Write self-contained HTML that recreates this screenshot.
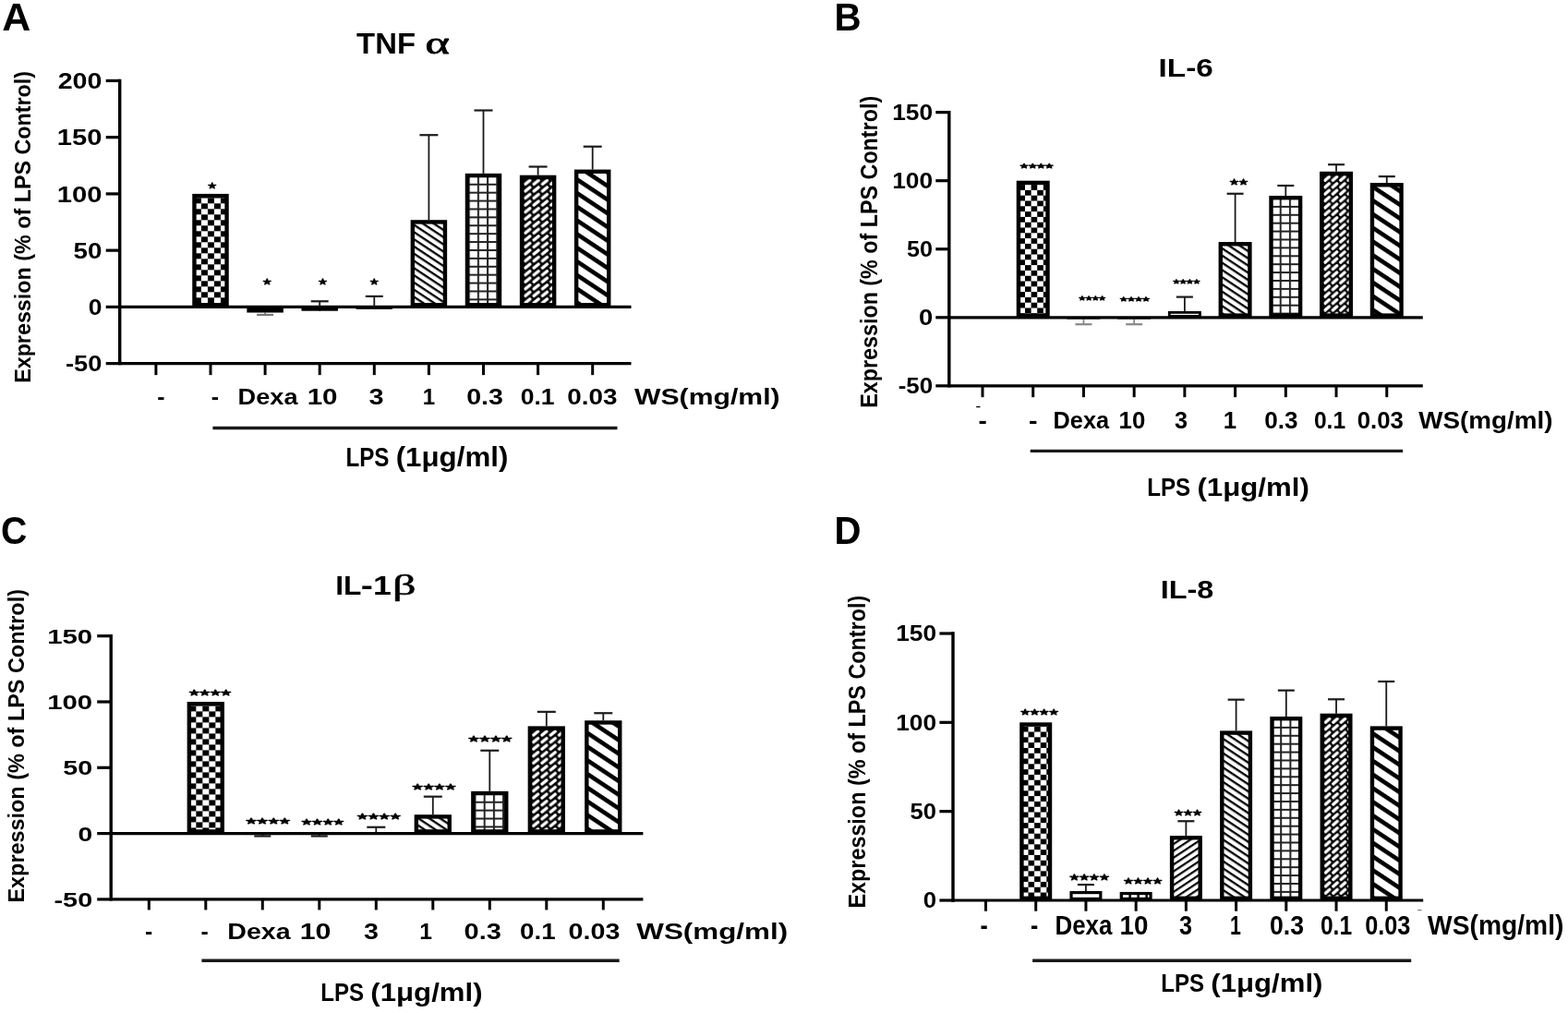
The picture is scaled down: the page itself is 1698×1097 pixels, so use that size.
<!DOCTYPE html>
<html><head><meta charset="utf-8"><title>Cytokine expression</title>
<style>html,body{margin:0;padding:0;background:#fff;width:1698px;height:1097px;overflow:hidden}svg{display:block}</style>
</head><body>
<svg width="1698" height="1097" viewBox="0 0 1698 1097"><defs><pattern id="chk_A_1" patternUnits="userSpaceOnUse" x="210.95" y="214.32" width="14.0" height="12.0"><rect width="14.0" height="12.0" fill="#fff"/><rect width="7.0" height="6.0" fill="#000"/><rect x="7.0" y="6.0" width="7.0" height="6.0" fill="#000"/></pattern><pattern id="bs_A_5" patternUnits="userSpaceOnUse" x="0.00" y="0.00" width="40" height="6.504" patternTransform="rotate(33.5)"><rect width="40" height="6.504" fill="#fff"/><rect y="0" width="40" height="2.300" fill="#000"/></pattern><pattern id="grid_A_6" patternUnits="userSpaceOnUse" x="516.90" y="198.77" width="10.2" height="8.9"><rect width="10.2" height="8.9" fill="#fff"/><rect width="2.0" height="8.9" fill="#222"/><rect width="10.2" height="2.0" fill="#222"/></pattern><pattern id="fs_A_7" patternUnits="userSpaceOnUse" x="566.95" y="193.61" width="9.3" height="7.56"><rect width="9.3" height="7.56" fill="#0a0a0a"/><line x1="1.95" y1="5.75" x2="6.88" y2="1.81" stroke="#fff" stroke-width="3.2" stroke-linecap="round"/></pattern><pattern id="tbs_A_8" patternUnits="userSpaceOnUse" x="0.00" y="0.00" width="40" height="12.342" patternTransform="rotate(33.5)"><rect width="40" height="12.342" fill="#fff"/><rect y="0" width="40" height="4.600" fill="#000"/></pattern><pattern id="chk_B_1" patternUnits="userSpaceOnUse" x="1103.42" y="200.10" width="13.2" height="11.6"><rect width="13.2" height="11.6" fill="#fff"/><rect width="6.6" height="5.8" fill="#000"/><rect x="6.6" y="5.8" width="6.6" height="5.8" fill="#000"/></pattern><pattern id="bs_B_5" patternUnits="userSpaceOnUse" x="0.00" y="0.00" width="40" height="6.504" patternTransform="rotate(33.5)"><rect width="40" height="6.504" fill="#fff"/><rect y="0" width="40" height="2.300" fill="#000"/></pattern><pattern id="grid_B_6" patternUnits="userSpaceOnUse" x="1385.72" y="222.89" width="10.2" height="8.9"><rect width="10.2" height="8.9" fill="#fff"/><rect width="2.0" height="8.9" fill="#222"/><rect width="10.2" height="2.0" fill="#222"/></pattern><pattern id="fs_B_7" patternUnits="userSpaceOnUse" x="1433.14" y="189.68" width="8.4" height="7.4"><rect width="8.4" height="7.4" fill="#0a0a0a"/><line x1="1.76" y1="5.62" x2="6.22" y2="1.78" stroke="#fff" stroke-width="3.2" stroke-linecap="round"/></pattern><pattern id="tbs_B_8" patternUnits="userSpaceOnUse" x="0.00" y="0.00" width="40" height="12.342" patternTransform="rotate(33.5)"><rect width="40" height="12.342" fill="#fff"/><rect y="0" width="40" height="4.600" fill="#000"/></pattern><pattern id="chk_C_1" patternUnits="userSpaceOnUse" x="205.35" y="764.40" width="14.0" height="12.0"><rect width="14.0" height="12.0" fill="#fff"/><rect width="7.0" height="6.0" fill="#000"/><rect x="7.0" y="6.0" width="7.0" height="6.0" fill="#000"/></pattern><pattern id="bs_C_5" patternUnits="userSpaceOnUse" x="0.00" y="0.00" width="40" height="6.504" patternTransform="rotate(33.5)"><rect width="40" height="6.504" fill="#fff"/><rect y="0" width="40" height="2.300" fill="#000"/></pattern><pattern id="grid_C_6" patternUnits="userSpaceOnUse" x="523.70" y="867.73" width="10.2" height="8.9"><rect width="10.2" height="8.9" fill="#fff"/><rect width="2.0" height="8.9" fill="#222"/><rect width="10.2" height="2.0" fill="#222"/></pattern><pattern id="fs_C_7" patternUnits="userSpaceOnUse" x="575.75" y="790.28" width="9.3" height="7.56"><rect width="9.3" height="7.56" fill="#0a0a0a"/><line x1="1.95" y1="5.75" x2="6.88" y2="1.81" stroke="#fff" stroke-width="3.2" stroke-linecap="round"/></pattern><pattern id="tbs_C_8" patternUnits="userSpaceOnUse" x="0.00" y="0.00" width="40" height="12.342" patternTransform="rotate(33.5)"><rect width="40" height="12.342" fill="#fff"/><rect y="0" width="40" height="4.600" fill="#000"/></pattern><pattern id="chk_D_1" patternUnits="userSpaceOnUse" x="1106.92" y="786.73" width="13.2" height="11.6"><rect width="13.2" height="11.6" fill="#fff"/><rect width="6.6" height="5.8" fill="#000"/><rect x="6.6" y="5.8" width="6.6" height="5.8" fill="#000"/></pattern><pattern id="dash_D_3" patternUnits="userSpaceOnUse" x="1215.86" width="9" height="12"><rect width="9" height="12" fill="#fff"/><rect x="6.5" width="2.5" height="12" fill="#000"/></pattern><pattern id="fsl_D_4" patternUnits="userSpaceOnUse" x="0.00" y="0.00" width="40" height="6.171" patternTransform="rotate(-33.5)"><rect width="40" height="6.171" fill="#fff"/><rect y="0" width="40" height="2.200" fill="#000"/></pattern><pattern id="bs_D_5" patternUnits="userSpaceOnUse" x="0.00" y="0.00" width="40" height="6.504" patternTransform="rotate(33.5)"><rect width="40" height="6.504" fill="#fff"/><rect y="0" width="40" height="2.300" fill="#000"/></pattern><pattern id="grid_D_6" patternUnits="userSpaceOnUse" x="1386.22" y="786.88" width="10.2" height="8.9"><rect width="10.2" height="8.9" fill="#fff"/><rect width="2.0" height="8.9" fill="#222"/><rect width="10.2" height="2.0" fill="#222"/></pattern><pattern id="fs_D_7" patternUnits="userSpaceOnUse" x="1433.64" y="776.60" width="8.4" height="7.4"><rect width="8.4" height="7.4" fill="#0a0a0a"/><line x1="1.76" y1="5.62" x2="6.22" y2="1.78" stroke="#fff" stroke-width="3.2" stroke-linecap="round"/></pattern><pattern id="tbs_D_8" patternUnits="userSpaceOnUse" x="0.00" y="0.00" width="40" height="12.342" patternTransform="rotate(33.5)"><rect width="40" height="12.342" fill="#fff"/><rect y="0" width="40" height="4.600" fill="#000"/></pattern></defs><rect width="1698" height="1097" fill="#fff"/><line x1="129.70" y1="85.74" x2="129.70" y2="395.34" stroke="#000" stroke-width="3.4" stroke-linecap="butt"/>
<line x1="114.70" y1="393.64" x2="129.70" y2="393.64" stroke="#000" stroke-width="3.2" stroke-linecap="butt"/>
<line x1="114.70" y1="332.40" x2="129.70" y2="332.40" stroke="#000" stroke-width="3.2" stroke-linecap="butt"/>
<line x1="114.70" y1="271.16" x2="129.70" y2="271.16" stroke="#000" stroke-width="3.2" stroke-linecap="butt"/>
<line x1="114.70" y1="209.92" x2="129.70" y2="209.92" stroke="#000" stroke-width="3.2" stroke-linecap="butt"/>
<line x1="114.70" y1="148.68" x2="129.70" y2="148.68" stroke="#000" stroke-width="3.2" stroke-linecap="butt"/>
<line x1="114.70" y1="87.44" x2="129.70" y2="87.44" stroke="#000" stroke-width="3.2" stroke-linecap="butt"/>
<line x1="129.70" y1="332.40" x2="683.50" y2="332.40" stroke="#000" stroke-width="3.2" stroke-linecap="butt"/>
<line x1="129.70" y1="393.64" x2="683.50" y2="393.64" stroke="#000" stroke-width="3.4" stroke-linecap="butt"/>
<line x1="168.90" y1="393.64" x2="168.90" y2="406.14" stroke="#000" stroke-width="3.0" stroke-linecap="butt"/>
<line x1="228.00" y1="393.64" x2="228.00" y2="406.14" stroke="#000" stroke-width="3.0" stroke-linecap="butt"/>
<line x1="287.10" y1="393.64" x2="287.10" y2="406.14" stroke="#000" stroke-width="3.0" stroke-linecap="butt"/>
<line x1="346.20" y1="393.64" x2="346.20" y2="406.14" stroke="#000" stroke-width="3.0" stroke-linecap="butt"/>
<line x1="405.30" y1="393.64" x2="405.30" y2="406.14" stroke="#000" stroke-width="3.0" stroke-linecap="butt"/>
<line x1="464.40" y1="393.64" x2="464.40" y2="406.14" stroke="#000" stroke-width="3.0" stroke-linecap="butt"/>
<line x1="523.50" y1="393.64" x2="523.50" y2="406.14" stroke="#000" stroke-width="3.0" stroke-linecap="butt"/>
<line x1="582.60" y1="393.64" x2="582.60" y2="406.14" stroke="#000" stroke-width="3.0" stroke-linecap="butt"/>
<line x1="641.70" y1="393.64" x2="641.70" y2="406.14" stroke="#000" stroke-width="3.0" stroke-linecap="butt"/>
<rect x="210.45" y="212.12" width="35.10" height="118.08" fill="url(#chk_A_1)" stroke="#000" stroke-width="4.4"/>
<line x1="287.10" y1="338.52" x2="287.10" y2="340.97" stroke="#777" stroke-width="1.8" stroke-linecap="butt"/>
<line x1="278.10" y1="340.97" x2="296.10" y2="340.97" stroke="#777" stroke-width="2.2" stroke-linecap="butt"/>
<rect x="267.35" y="332.40" width="39.50" height="6.12" fill="#000"/>
<line x1="346.20" y1="336.69" x2="346.20" y2="326.28" stroke="#1a1a1a" stroke-width="1.8" stroke-linecap="butt"/>
<line x1="336.70" y1="326.28" x2="355.70" y2="326.28" stroke="#1a1a1a" stroke-width="2.2" stroke-linecap="butt"/>
<rect x="326.45" y="332.40" width="39.50" height="4.29" fill="#000"/>
<line x1="405.30" y1="334.85" x2="405.30" y2="320.89" stroke="#1a1a1a" stroke-width="1.8" stroke-linecap="butt"/>
<line x1="395.80" y1="320.89" x2="414.80" y2="320.89" stroke="#1a1a1a" stroke-width="2.2" stroke-linecap="butt"/>
<rect x="385.55" y="332.40" width="39.50" height="2.45" fill="#000"/>
<line x1="464.40" y1="238.21" x2="464.40" y2="146.23" stroke="#1a1a1a" stroke-width="1.8" stroke-linecap="butt"/>
<line x1="454.40" y1="146.23" x2="474.40" y2="146.23" stroke="#1a1a1a" stroke-width="2.2" stroke-linecap="butt"/>
<rect x="446.85" y="240.41" width="35.10" height="89.79" fill="url(#bs_A_5)" stroke="#000" stroke-width="4.4"/>
<line x1="523.50" y1="187.87" x2="523.50" y2="119.53" stroke="#1a1a1a" stroke-width="1.8" stroke-linecap="butt"/>
<line x1="513.50" y1="119.53" x2="533.50" y2="119.53" stroke="#1a1a1a" stroke-width="2.2" stroke-linecap="butt"/>
<rect x="505.95" y="190.07" width="35.10" height="140.13" fill="url(#grid_A_6)" stroke="#000" stroke-width="4.4"/>
<line x1="582.60" y1="189.71" x2="582.60" y2="180.52" stroke="#1a1a1a" stroke-width="1.8" stroke-linecap="butt"/>
<line x1="572.60" y1="180.52" x2="592.60" y2="180.52" stroke="#1a1a1a" stroke-width="2.2" stroke-linecap="butt"/>
<rect x="565.05" y="191.91" width="35.10" height="138.29" fill="url(#fs_A_7)" stroke="#000" stroke-width="4.4"/>
<line x1="641.70" y1="183.59" x2="641.70" y2="158.72" stroke="#1a1a1a" stroke-width="1.8" stroke-linecap="butt"/>
<line x1="631.70" y1="158.72" x2="651.70" y2="158.72" stroke="#1a1a1a" stroke-width="2.2" stroke-linecap="butt"/>
<rect x="624.15" y="185.79" width="35.10" height="144.41" fill="url(#tbs_A_8)" stroke="#000" stroke-width="4.4"/>
<line x1="230.40" y1="463.50" x2="668.50" y2="463.50" stroke="#1a1a1a" stroke-width="3.4" stroke-linecap="butt"/>
<line x1="1027.80" y1="119.95" x2="1027.80" y2="419.55" stroke="#000" stroke-width="3.4" stroke-linecap="butt"/>
<line x1="1013.30" y1="417.85" x2="1027.80" y2="417.85" stroke="#000" stroke-width="3.2" stroke-linecap="butt"/>
<line x1="1013.30" y1="343.80" x2="1027.80" y2="343.80" stroke="#000" stroke-width="3.2" stroke-linecap="butt"/>
<line x1="1013.30" y1="269.75" x2="1027.80" y2="269.75" stroke="#000" stroke-width="3.2" stroke-linecap="butt"/>
<line x1="1013.30" y1="195.70" x2="1027.80" y2="195.70" stroke="#000" stroke-width="3.2" stroke-linecap="butt"/>
<line x1="1013.30" y1="121.65" x2="1027.80" y2="121.65" stroke="#000" stroke-width="3.2" stroke-linecap="butt"/>
<line x1="1027.80" y1="343.80" x2="1540.80" y2="343.80" stroke="#000" stroke-width="3.2" stroke-linecap="butt"/>
<line x1="1027.80" y1="417.85" x2="1540.80" y2="417.85" stroke="#000" stroke-width="3.4" stroke-linecap="butt"/>
<line x1="1064.00" y1="417.85" x2="1064.00" y2="430.15" stroke="#000" stroke-width="3.0" stroke-linecap="butt"/>
<line x1="1118.72" y1="417.85" x2="1118.72" y2="430.15" stroke="#000" stroke-width="3.0" stroke-linecap="butt"/>
<line x1="1173.44" y1="417.85" x2="1173.44" y2="430.15" stroke="#000" stroke-width="3.0" stroke-linecap="butt"/>
<line x1="1228.16" y1="417.85" x2="1228.16" y2="430.15" stroke="#000" stroke-width="3.0" stroke-linecap="butt"/>
<line x1="1282.88" y1="417.85" x2="1282.88" y2="430.15" stroke="#000" stroke-width="3.0" stroke-linecap="butt"/>
<line x1="1337.60" y1="417.85" x2="1337.60" y2="430.15" stroke="#000" stroke-width="3.0" stroke-linecap="butt"/>
<line x1="1392.32" y1="417.85" x2="1392.32" y2="430.15" stroke="#000" stroke-width="3.0" stroke-linecap="butt"/>
<line x1="1447.04" y1="417.85" x2="1447.04" y2="430.15" stroke="#000" stroke-width="3.0" stroke-linecap="butt"/>
<line x1="1501.76" y1="417.85" x2="1501.76" y2="430.15" stroke="#000" stroke-width="3.0" stroke-linecap="butt"/>
<rect x="1102.92" y="197.90" width="31.60" height="143.70" fill="url(#chk_B_1)" stroke="#000" stroke-width="4.4"/>
<line x1="1173.44" y1="345.58" x2="1173.44" y2="351.20" stroke="#888" stroke-width="1.8" stroke-linecap="butt"/>
<line x1="1164.44" y1="351.20" x2="1182.44" y2="351.20" stroke="#888" stroke-width="2.2" stroke-linecap="butt"/>
<rect x="1155.44" y="343.80" width="36.00" height="1.78" fill="#000"/>
<line x1="1228.16" y1="345.58" x2="1228.16" y2="351.20" stroke="#888" stroke-width="1.8" stroke-linecap="butt"/>
<line x1="1219.16" y1="351.20" x2="1237.16" y2="351.20" stroke="#888" stroke-width="2.2" stroke-linecap="butt"/>
<rect x="1210.16" y="343.80" width="36.00" height="1.78" fill="#000"/>
<line x1="1282.88" y1="336.99" x2="1282.88" y2="321.59" stroke="#1a1a1a" stroke-width="1.8" stroke-linecap="butt"/>
<line x1="1273.88" y1="321.59" x2="1291.88" y2="321.59" stroke="#1a1a1a" stroke-width="2.2" stroke-linecap="butt"/>
<rect x="1266.28" y="338.39" width="33.20" height="4.01" fill="#fff" stroke="#000" stroke-width="2.8"/>
<line x1="1337.60" y1="262.05" x2="1337.60" y2="209.77" stroke="#1a1a1a" stroke-width="1.8" stroke-linecap="butt"/>
<line x1="1328.60" y1="209.77" x2="1346.60" y2="209.77" stroke="#1a1a1a" stroke-width="2.2" stroke-linecap="butt"/>
<rect x="1321.80" y="264.25" width="31.60" height="77.35" fill="url(#bs_B_5)" stroke="#000" stroke-width="4.4"/>
<line x1="1392.32" y1="211.99" x2="1392.32" y2="201.03" stroke="#1a1a1a" stroke-width="1.8" stroke-linecap="butt"/>
<line x1="1383.32" y1="201.03" x2="1401.32" y2="201.03" stroke="#1a1a1a" stroke-width="2.2" stroke-linecap="butt"/>
<rect x="1376.52" y="214.19" width="31.60" height="127.41" fill="url(#grid_B_6)" stroke="#000" stroke-width="4.4"/>
<line x1="1447.04" y1="185.78" x2="1447.04" y2="178.22" stroke="#1a1a1a" stroke-width="1.8" stroke-linecap="butt"/>
<line x1="1438.04" y1="178.22" x2="1456.04" y2="178.22" stroke="#1a1a1a" stroke-width="2.2" stroke-linecap="butt"/>
<rect x="1431.24" y="187.98" width="31.60" height="153.62" fill="url(#fs_B_7)" stroke="#000" stroke-width="4.4"/>
<line x1="1501.76" y1="198.07" x2="1501.76" y2="191.11" stroke="#1a1a1a" stroke-width="1.8" stroke-linecap="butt"/>
<line x1="1492.76" y1="191.11" x2="1510.76" y2="191.11" stroke="#1a1a1a" stroke-width="2.2" stroke-linecap="butt"/>
<rect x="1485.96" y="200.27" width="31.60" height="141.33" fill="url(#tbs_B_8)" stroke="#000" stroke-width="4.4"/>
<line x1="1115.70" y1="488.40" x2="1519.20" y2="488.40" stroke="#1a1a1a" stroke-width="3.4" stroke-linecap="butt"/>
<line x1="120.20" y1="687.00" x2="120.20" y2="975.60" stroke="#000" stroke-width="3.4" stroke-linecap="butt"/>
<line x1="105.20" y1="973.90" x2="120.20" y2="973.90" stroke="#000" stroke-width="3.2" stroke-linecap="butt"/>
<line x1="105.20" y1="902.60" x2="120.20" y2="902.60" stroke="#000" stroke-width="3.2" stroke-linecap="butt"/>
<line x1="105.20" y1="831.30" x2="120.20" y2="831.30" stroke="#000" stroke-width="3.2" stroke-linecap="butt"/>
<line x1="105.20" y1="760.00" x2="120.20" y2="760.00" stroke="#000" stroke-width="3.2" stroke-linecap="butt"/>
<line x1="105.20" y1="688.70" x2="120.20" y2="688.70" stroke="#000" stroke-width="3.2" stroke-linecap="butt"/>
<line x1="120.20" y1="902.60" x2="696.40" y2="902.60" stroke="#000" stroke-width="3.2" stroke-linecap="butt"/>
<line x1="120.20" y1="973.90" x2="696.40" y2="973.90" stroke="#000" stroke-width="3.4" stroke-linecap="butt"/>
<line x1="161.30" y1="973.90" x2="161.30" y2="985.40" stroke="#000" stroke-width="3.0" stroke-linecap="butt"/>
<line x1="222.80" y1="973.90" x2="222.80" y2="985.40" stroke="#000" stroke-width="3.0" stroke-linecap="butt"/>
<line x1="284.30" y1="973.90" x2="284.30" y2="985.40" stroke="#000" stroke-width="3.0" stroke-linecap="butt"/>
<line x1="345.80" y1="973.90" x2="345.80" y2="985.40" stroke="#000" stroke-width="3.0" stroke-linecap="butt"/>
<line x1="407.30" y1="973.90" x2="407.30" y2="985.40" stroke="#000" stroke-width="3.0" stroke-linecap="butt"/>
<line x1="468.80" y1="973.90" x2="468.80" y2="985.40" stroke="#000" stroke-width="3.0" stroke-linecap="butt"/>
<line x1="530.30" y1="973.90" x2="530.30" y2="985.40" stroke="#000" stroke-width="3.0" stroke-linecap="butt"/>
<line x1="591.80" y1="973.90" x2="591.80" y2="985.40" stroke="#000" stroke-width="3.0" stroke-linecap="butt"/>
<line x1="653.30" y1="973.90" x2="653.30" y2="985.40" stroke="#000" stroke-width="3.0" stroke-linecap="butt"/>
<rect x="204.85" y="762.20" width="35.90" height="138.20" fill="url(#chk_C_1)" stroke="#000" stroke-width="4.4"/>
<line x1="284.30" y1="904.03" x2="284.30" y2="905.45" stroke="#1a1a1a" stroke-width="1.8" stroke-linecap="butt"/>
<line x1="275.30" y1="905.45" x2="293.30" y2="905.45" stroke="#1a1a1a" stroke-width="2.2" stroke-linecap="butt"/>
<rect x="264.15" y="902.60" width="40.30" height="1.43" fill="#000"/>
<line x1="345.80" y1="904.03" x2="345.80" y2="905.45" stroke="#1a1a1a" stroke-width="1.8" stroke-linecap="butt"/>
<line x1="336.80" y1="905.45" x2="354.80" y2="905.45" stroke="#1a1a1a" stroke-width="2.2" stroke-linecap="butt"/>
<rect x="325.65" y="902.60" width="40.30" height="1.43" fill="#000"/>
<line x1="407.30" y1="901.74" x2="407.30" y2="895.76" stroke="#1a1a1a" stroke-width="1.8" stroke-linecap="butt"/>
<line x1="397.30" y1="895.76" x2="417.30" y2="895.76" stroke="#1a1a1a" stroke-width="2.2" stroke-linecap="butt"/>
<rect x="387.15" y="901.74" width="40.30" height="1.86" fill="#000"/>
<line x1="468.80" y1="882.21" x2="468.80" y2="862.67" stroke="#1a1a1a" stroke-width="1.8" stroke-linecap="butt"/>
<line x1="458.80" y1="862.67" x2="478.80" y2="862.67" stroke="#1a1a1a" stroke-width="2.2" stroke-linecap="butt"/>
<rect x="450.85" y="884.41" width="35.90" height="15.99" fill="url(#bs_C_5)" stroke="#000" stroke-width="4.4"/>
<line x1="530.30" y1="856.83" x2="530.30" y2="812.76" stroke="#1a1a1a" stroke-width="1.8" stroke-linecap="butt"/>
<line x1="520.30" y1="812.76" x2="540.30" y2="812.76" stroke="#1a1a1a" stroke-width="2.2" stroke-linecap="butt"/>
<rect x="512.35" y="859.03" width="35.90" height="41.37" fill="url(#grid_C_6)" stroke="#000" stroke-width="4.4"/>
<line x1="591.80" y1="786.38" x2="591.80" y2="770.84" stroke="#1a1a1a" stroke-width="1.8" stroke-linecap="butt"/>
<line x1="581.80" y1="770.84" x2="601.80" y2="770.84" stroke="#1a1a1a" stroke-width="2.2" stroke-linecap="butt"/>
<rect x="573.85" y="788.58" width="35.90" height="111.82" fill="url(#fs_C_7)" stroke="#000" stroke-width="4.4"/>
<line x1="653.30" y1="780.25" x2="653.30" y2="772.26" stroke="#1a1a1a" stroke-width="1.8" stroke-linecap="butt"/>
<line x1="643.30" y1="772.26" x2="663.30" y2="772.26" stroke="#1a1a1a" stroke-width="2.2" stroke-linecap="butt"/>
<rect x="635.35" y="782.45" width="35.90" height="117.95" fill="url(#tbs_C_8)" stroke="#000" stroke-width="4.4"/>
<line x1="218.40" y1="1040.20" x2="670.70" y2="1040.20" stroke="#1a1a1a" stroke-width="3.4" stroke-linecap="butt"/>
<line x1="1032.00" y1="684.30" x2="1032.00" y2="976.70" stroke="#000" stroke-width="3.4" stroke-linecap="butt"/>
<line x1="1017.40" y1="975.00" x2="1032.00" y2="975.00" stroke="#000" stroke-width="3.2" stroke-linecap="butt"/>
<line x1="1017.40" y1="878.67" x2="1032.00" y2="878.67" stroke="#000" stroke-width="3.2" stroke-linecap="butt"/>
<line x1="1017.40" y1="782.33" x2="1032.00" y2="782.33" stroke="#000" stroke-width="3.2" stroke-linecap="butt"/>
<line x1="1017.40" y1="686.00" x2="1032.00" y2="686.00" stroke="#000" stroke-width="3.2" stroke-linecap="butt"/>
<line x1="1032.00" y1="975.00" x2="1541.20" y2="975.00" stroke="#000" stroke-width="3.2" stroke-linecap="butt"/>
<line x1="1067.50" y1="975.00" x2="1067.50" y2="986.70" stroke="#000" stroke-width="3.0" stroke-linecap="butt"/>
<line x1="1121.72" y1="975.00" x2="1121.72" y2="986.70" stroke="#000" stroke-width="3.0" stroke-linecap="butt"/>
<line x1="1175.94" y1="975.00" x2="1175.94" y2="986.70" stroke="#000" stroke-width="3.0" stroke-linecap="butt"/>
<line x1="1230.16" y1="975.00" x2="1230.16" y2="986.70" stroke="#000" stroke-width="3.0" stroke-linecap="butt"/>
<line x1="1284.38" y1="975.00" x2="1284.38" y2="986.70" stroke="#000" stroke-width="3.0" stroke-linecap="butt"/>
<line x1="1338.60" y1="975.00" x2="1338.60" y2="986.70" stroke="#000" stroke-width="3.0" stroke-linecap="butt"/>
<line x1="1392.82" y1="975.00" x2="1392.82" y2="986.70" stroke="#000" stroke-width="3.0" stroke-linecap="butt"/>
<line x1="1447.04" y1="975.00" x2="1447.04" y2="986.70" stroke="#000" stroke-width="3.0" stroke-linecap="butt"/>
<line x1="1501.26" y1="975.00" x2="1501.26" y2="986.70" stroke="#000" stroke-width="3.0" stroke-linecap="butt"/>
<rect x="1106.42" y="784.53" width="30.60" height="188.27" fill="url(#chk_D_1)" stroke="#000" stroke-width="4.4"/>
<line x1="1175.94" y1="964.98" x2="1175.94" y2="958.05" stroke="#1a1a1a" stroke-width="1.8" stroke-linecap="butt"/>
<line x1="1166.94" y1="958.05" x2="1184.94" y2="958.05" stroke="#1a1a1a" stroke-width="2.2" stroke-linecap="butt"/>
<rect x="1160.04" y="966.58" width="31.80" height="6.82" fill="#fff" stroke="#000" stroke-width="3.2"/>
<rect x="1214.26" y="967.54" width="31.80" height="5.86" fill="url(#dash_D_3)" stroke="#000" stroke-width="3.2"/>
<line x1="1284.38" y1="905.06" x2="1284.38" y2="889.26" stroke="#1a1a1a" stroke-width="1.8" stroke-linecap="butt"/>
<line x1="1275.38" y1="889.26" x2="1293.38" y2="889.26" stroke="#1a1a1a" stroke-width="2.2" stroke-linecap="butt"/>
<rect x="1269.08" y="907.26" width="30.60" height="65.54" fill="url(#fsl_D_4)" stroke="#000" stroke-width="4.4"/>
<line x1="1338.60" y1="791.39" x2="1338.60" y2="757.67" stroke="#1a1a1a" stroke-width="1.8" stroke-linecap="butt"/>
<line x1="1329.60" y1="757.67" x2="1347.60" y2="757.67" stroke="#1a1a1a" stroke-width="2.2" stroke-linecap="butt"/>
<rect x="1323.30" y="793.59" width="30.60" height="179.21" fill="url(#bs_D_5)" stroke="#000" stroke-width="4.4"/>
<line x1="1392.82" y1="775.98" x2="1392.82" y2="747.65" stroke="#1a1a1a" stroke-width="1.8" stroke-linecap="butt"/>
<line x1="1383.82" y1="747.65" x2="1401.82" y2="747.65" stroke="#1a1a1a" stroke-width="2.2" stroke-linecap="butt"/>
<rect x="1377.52" y="778.18" width="30.60" height="194.62" fill="url(#grid_D_6)" stroke="#000" stroke-width="4.4"/>
<line x1="1447.04" y1="772.70" x2="1447.04" y2="757.29" stroke="#1a1a1a" stroke-width="1.8" stroke-linecap="butt"/>
<line x1="1438.04" y1="757.29" x2="1456.04" y2="757.29" stroke="#1a1a1a" stroke-width="2.2" stroke-linecap="butt"/>
<rect x="1431.74" y="774.90" width="30.60" height="197.90" fill="url(#fs_D_7)" stroke="#000" stroke-width="4.4"/>
<line x1="1501.26" y1="786.38" x2="1501.26" y2="738.02" stroke="#1a1a1a" stroke-width="1.8" stroke-linecap="butt"/>
<line x1="1492.26" y1="738.02" x2="1510.26" y2="738.02" stroke="#1a1a1a" stroke-width="2.2" stroke-linecap="butt"/>
<rect x="1485.96" y="788.58" width="30.60" height="184.22" fill="url(#tbs_D_8)" stroke="#000" stroke-width="4.4"/>
<line x1="1118.10" y1="1040.30" x2="1528.20" y2="1040.30" stroke="#1a1a1a" stroke-width="3.4" stroke-linecap="butt"/>
<text x="62.71" y="96.04" font-family='"Liberation Sans", "DejaVu Sans", sans-serif' font-weight="bold" font-size="24.47" textLength="47.75" lengthAdjust="spacingAndGlyphs" fill="#000">200</text>
<text x="61.78" y="157.28" font-family='"Liberation Sans", "DejaVu Sans", sans-serif' font-weight="bold" font-size="24.47" textLength="48.71" lengthAdjust="spacingAndGlyphs" fill="#000">150</text>
<text x="61.78" y="218.52" font-family='"Liberation Sans", "DejaVu Sans", sans-serif' font-weight="bold" font-size="24.47" textLength="48.71" lengthAdjust="spacingAndGlyphs" fill="#000">100</text>
<text x="79.57" y="279.76" font-family='"Liberation Sans", "DejaVu Sans", sans-serif' font-weight="bold" font-size="24.47" textLength="30.86" lengthAdjust="spacingAndGlyphs" fill="#000">50</text>
<text x="95.67" y="341.00" font-family='"Liberation Sans", "DejaVu Sans", sans-serif' font-weight="bold" font-size="24.47" textLength="14.70" lengthAdjust="spacingAndGlyphs" fill="#000">0</text>
<text x="71.05" y="402.24" font-family='"Liberation Sans", "DejaVu Sans", sans-serif' font-weight="bold" font-size="24.47" textLength="39.35" lengthAdjust="spacingAndGlyphs" fill="#000">-50</text>
<text x="170.22" y="438.30" font-family='"Liberation Sans", "DejaVu Sans", sans-serif' font-weight="bold" font-size="24.61" textLength="8.27" lengthAdjust="spacingAndGlyphs" fill="#000">-</text>
<text x="228.82" y="438.30" font-family='"Liberation Sans", "DejaVu Sans", sans-serif' font-weight="bold" font-size="24.61" textLength="8.27" lengthAdjust="spacingAndGlyphs" fill="#000">-</text>
<text x="257.60" y="438.30" font-family='"Liberation Sans", "DejaVu Sans", sans-serif' font-weight="bold" font-size="24.61" textLength="64.92" lengthAdjust="spacingAndGlyphs" fill="#000">Dexa</text>
<text x="332.65" y="438.30" font-family='"Liberation Sans", "DejaVu Sans", sans-serif' font-weight="bold" font-size="24.61" textLength="32.95" lengthAdjust="spacingAndGlyphs" fill="#000">10</text>
<text x="399.55" y="438.30" font-family='"Liberation Sans", "DejaVu Sans", sans-serif' font-weight="bold" font-size="24.61" textLength="16.07" lengthAdjust="spacingAndGlyphs" fill="#000">3</text>
<text x="457.69" y="438.30" font-family='"Liberation Sans", "DejaVu Sans", sans-serif' font-weight="bold" font-size="24.61" textLength="13.41" lengthAdjust="spacingAndGlyphs" fill="#000">1</text>
<text x="505.21" y="438.30" font-family='"Liberation Sans", "DejaVu Sans", sans-serif' font-weight="bold" font-size="24.61" textLength="39.81" lengthAdjust="spacingAndGlyphs" fill="#000">0.3</text>
<text x="563.67" y="438.30" font-family='"Liberation Sans", "DejaVu Sans", sans-serif' font-weight="bold" font-size="24.61" textLength="36.89" lengthAdjust="spacingAndGlyphs" fill="#000">0.1</text>
<text x="614.23" y="438.30" font-family='"Liberation Sans", "DejaVu Sans", sans-serif' font-weight="bold" font-size="24.61" textLength="54.27" lengthAdjust="spacingAndGlyphs" fill="#000">0.03</text>
<text x="687.00" y="438.30" font-family='"Liberation Sans", "DejaVu Sans", sans-serif' font-weight="bold" font-size="24.61" textLength="157.59" lengthAdjust="spacingAndGlyphs" fill="#000">WS(mg/ml)</text>
<text x="225.00" y="203.77" font-family='"DejaVu Sans", sans-serif' font-weight="normal" font-size="8.53" textLength="9.50" lengthAdjust="spacingAndGlyphs" fill="#000" stroke="#000" stroke-width="1.1" stroke-linejoin="round">★</text>
<text x="284.40" y="308.17" font-family='"DejaVu Sans", sans-serif' font-weight="normal" font-size="8.53" textLength="9.50" lengthAdjust="spacingAndGlyphs" fill="#000" stroke="#000" stroke-width="1.1" stroke-linejoin="round">★</text>
<text x="344.80" y="308.17" font-family='"DejaVu Sans", sans-serif' font-weight="normal" font-size="8.53" textLength="9.50" lengthAdjust="spacingAndGlyphs" fill="#000" stroke="#000" stroke-width="1.1" stroke-linejoin="round">★</text>
<text x="400.40" y="308.17" font-family='"DejaVu Sans", sans-serif' font-weight="normal" font-size="8.53" textLength="9.50" lengthAdjust="spacingAndGlyphs" fill="#000" stroke="#000" stroke-width="1.1" stroke-linejoin="round">★</text>
<text x="374.39" y="504.50" font-family='"Liberation Sans", "DejaVu Sans", sans-serif' font-weight="bold" font-size="29.30" textLength="47.03" lengthAdjust="spacingAndGlyphs" fill="#000">LPS</text>
<text x="428.68" y="504.50" font-family='"Liberation Sans", "DejaVu Sans", sans-serif' font-weight="bold" font-size="29.30" textLength="121.65" lengthAdjust="spacingAndGlyphs" fill="#000">(1μg/ml)</text>
<text x="386.10" y="57.50" font-family='"Liberation Sans", "DejaVu Sans", sans-serif' font-weight="bold" font-size="31.01" textLength="63.88" lengthAdjust="spacingAndGlyphs" fill="#000">TNF</text>
<text x="460.43" y="57.50" font-family='"Liberation Serif", "DejaVu Serif", serif' font-weight="normal" font-size="33.48" textLength="26.28" lengthAdjust="spacingAndGlyphs" fill="#000" stroke="#000" stroke-width="0.8" stroke-linejoin="round">α</text>
<text transform="rotate(-90)" x="-414.86" y="33.30" font-family='"Liberation Sans", "DejaVu Sans", sans-serif' font-weight="bold" font-size="24.61" textLength="337.90" lengthAdjust="spacingAndGlyphs" fill="#000">Expression (% of LPS Control)</text>
<text x="2.23" y="32.80" font-family='"Liberation Sans", "DejaVu Sans", sans-serif' font-weight="bold" font-size="42.39" textLength="30.99" lengthAdjust="spacingAndGlyphs" fill="#000">A</text>
<text x="966.15" y="130.00" font-family='"Liberation Sans", "DejaVu Sans", sans-serif' font-weight="bold" font-size="23.76" textLength="44.02" lengthAdjust="spacingAndGlyphs" fill="#000">150</text>
<text x="966.15" y="204.05" font-family='"Liberation Sans", "DejaVu Sans", sans-serif' font-weight="bold" font-size="23.76" textLength="44.02" lengthAdjust="spacingAndGlyphs" fill="#000">100</text>
<text x="982.11" y="278.10" font-family='"Liberation Sans", "DejaVu Sans", sans-serif' font-weight="bold" font-size="23.76" textLength="28.01" lengthAdjust="spacingAndGlyphs" fill="#000">50</text>
<text x="994.94" y="352.15" font-family='"Liberation Sans", "DejaVu Sans", sans-serif' font-weight="bold" font-size="23.76" textLength="15.27" lengthAdjust="spacingAndGlyphs" fill="#000">0</text>
<text x="972.69" y="426.20" font-family='"Liberation Sans", "DejaVu Sans", sans-serif' font-weight="bold" font-size="23.76" textLength="37.46" lengthAdjust="spacingAndGlyphs" fill="#000">-50</text>
<text x="1059.53" y="463.70" font-family='"Liberation Sans", "DejaVu Sans", sans-serif' font-weight="bold" font-size="25.32" textLength="9.28" lengthAdjust="spacingAndGlyphs" fill="#000">-</text>
<text x="1113.91" y="463.70" font-family='"Liberation Sans", "DejaVu Sans", sans-serif' font-weight="bold" font-size="25.32" textLength="9.53" lengthAdjust="spacingAndGlyphs" fill="#000">-</text>
<text x="1140.52" y="463.70" font-family='"Liberation Sans", "DejaVu Sans", sans-serif' font-weight="bold" font-size="25.32" textLength="60.52" lengthAdjust="spacingAndGlyphs" fill="#000">Dexa</text>
<text x="1211.59" y="463.70" font-family='"Liberation Sans", "DejaVu Sans", sans-serif' font-weight="bold" font-size="25.32" textLength="28.65" lengthAdjust="spacingAndGlyphs" fill="#000">10</text>
<text x="1271.91" y="463.70" font-family='"Liberation Sans", "DejaVu Sans", sans-serif' font-weight="bold" font-size="25.32" textLength="14.02" lengthAdjust="spacingAndGlyphs" fill="#000">3</text>
<text x="1324.69" y="463.70" font-family='"Liberation Sans", "DejaVu Sans", sans-serif' font-weight="bold" font-size="25.32" textLength="14.36" lengthAdjust="spacingAndGlyphs" fill="#000">1</text>
<text x="1369.18" y="463.70" font-family='"Liberation Sans", "DejaVu Sans", sans-serif' font-weight="bold" font-size="25.32" textLength="36.26" lengthAdjust="spacingAndGlyphs" fill="#000">0.3</text>
<text x="1422.93" y="463.70" font-family='"Liberation Sans", "DejaVu Sans", sans-serif' font-weight="bold" font-size="25.32" textLength="34.18" lengthAdjust="spacingAndGlyphs" fill="#000">0.1</text>
<text x="1469.69" y="463.70" font-family='"Liberation Sans", "DejaVu Sans", sans-serif' font-weight="bold" font-size="25.32" textLength="50.15" lengthAdjust="spacingAndGlyphs" fill="#000">0.03</text>
<text x="1536.20" y="463.70" font-family='"Liberation Sans", "DejaVu Sans", sans-serif' font-weight="bold" font-size="25.32" textLength="145.31" lengthAdjust="spacingAndGlyphs" fill="#000">WS(mg/ml)</text>
<text x="1104.63" y="181.65" font-family='"DejaVu Sans", sans-serif' font-weight="normal" font-size="6.53" textLength="36.24" lengthAdjust="spacingAndGlyphs" fill="#000" stroke="#000" stroke-width="1.1" stroke-linejoin="round">★★★★</text>
<text x="1168.35" y="325.16" font-family='"DejaVu Sans", sans-serif' font-weight="normal" font-size="6.00" textLength="29.01" lengthAdjust="spacingAndGlyphs" fill="#000" stroke="#000" stroke-width="1.1" stroke-linejoin="round">★★★★</text>
<text x="1212.80" y="325.76" font-family='"DejaVu Sans", sans-serif' font-weight="normal" font-size="6.00" textLength="32.32" lengthAdjust="spacingAndGlyphs" fill="#000" stroke="#000" stroke-width="1.1" stroke-linejoin="round">★★★★</text>
<text x="1270.15" y="307.16" font-family='"DejaVu Sans", sans-serif' font-weight="normal" font-size="6.00" textLength="29.43" lengthAdjust="spacingAndGlyphs" fill="#000" stroke="#000" stroke-width="1.1" stroke-linejoin="round">★★★★</text>
<text x="1331.56" y="199.97" font-family='"DejaVu Sans", sans-serif' font-weight="normal" font-size="8.53" textLength="20.07" lengthAdjust="spacingAndGlyphs" fill="#000" stroke="#000" stroke-width="1.1" stroke-linejoin="round">★★</text>
<text x="1056.47" y="443.00" font-family='"Liberation Sans", "DejaVu Sans", sans-serif' font-weight="bold" font-size="10.00" textLength="5.64" lengthAdjust="spacingAndGlyphs" fill="#000">-</text>
<text x="1242.29" y="537.10" font-family='"Liberation Sans", "DejaVu Sans", sans-serif' font-weight="bold" font-size="27.03" textLength="46.93" lengthAdjust="spacingAndGlyphs" fill="#000">LPS</text>
<text x="1296.46" y="537.10" font-family='"Liberation Sans", "DejaVu Sans", sans-serif' font-weight="bold" font-size="27.03" textLength="121.37" lengthAdjust="spacingAndGlyphs" fill="#000">(1μg/ml)</text>
<text x="1254.62" y="83.40" font-family='"Liberation Sans", "DejaVu Sans", sans-serif' font-weight="bold" font-size="28.31" textLength="59.11" lengthAdjust="spacingAndGlyphs" fill="#000">IL-6</text>
<text transform="rotate(-90)" x="-441.76" y="949.80" font-family='"Liberation Sans", "DejaVu Sans", sans-serif' font-weight="bold" font-size="25.46" textLength="337.90" lengthAdjust="spacingAndGlyphs" fill="#000">Expression (% of LPS Control)</text>
<text x="903.38" y="32.60" font-family='"Liberation Sans", "DejaVu Sans", sans-serif' font-weight="bold" font-size="42.25" textLength="29.12" lengthAdjust="spacingAndGlyphs" fill="#000">B</text>
<text x="51.16" y="696.65" font-family='"Liberation Sans", "DejaVu Sans", sans-serif' font-weight="bold" font-size="22.62" textLength="49.03" lengthAdjust="spacingAndGlyphs" fill="#000">150</text>
<text x="51.16" y="767.95" font-family='"Liberation Sans", "DejaVu Sans", sans-serif' font-weight="bold" font-size="22.62" textLength="49.03" lengthAdjust="spacingAndGlyphs" fill="#000">100</text>
<text x="68.25" y="839.25" font-family='"Liberation Sans", "DejaVu Sans", sans-serif' font-weight="bold" font-size="22.62" textLength="31.91" lengthAdjust="spacingAndGlyphs" fill="#000">50</text>
<text x="84.42" y="910.55" font-family='"Liberation Sans", "DejaVu Sans", sans-serif' font-weight="bold" font-size="22.62" textLength="15.73" lengthAdjust="spacingAndGlyphs" fill="#000">0</text>
<text x="58.50" y="981.85" font-family='"Liberation Sans", "DejaVu Sans", sans-serif' font-weight="bold" font-size="22.62" textLength="41.67" lengthAdjust="spacingAndGlyphs" fill="#000">-50</text>
<text x="157.12" y="1017.00" font-family='"Liberation Sans", "DejaVu Sans", sans-serif' font-weight="bold" font-size="24.18" textLength="8.27" lengthAdjust="spacingAndGlyphs" fill="#000">-</text>
<text x="217.52" y="1017.00" font-family='"Liberation Sans", "DejaVu Sans", sans-serif' font-weight="bold" font-size="24.18" textLength="8.27" lengthAdjust="spacingAndGlyphs" fill="#000">-</text>
<text x="246.31" y="1017.00" font-family='"Liberation Sans", "DejaVu Sans", sans-serif' font-weight="bold" font-size="24.18" textLength="68.41" lengthAdjust="spacingAndGlyphs" fill="#000">Dexa</text>
<text x="324.70" y="1017.00" font-family='"Liberation Sans", "DejaVu Sans", sans-serif' font-weight="bold" font-size="24.18" textLength="33.83" lengthAdjust="spacingAndGlyphs" fill="#000">10</text>
<text x="393.95" y="1017.00" font-family='"Liberation Sans", "DejaVu Sans", sans-serif' font-weight="bold" font-size="24.18" textLength="15.96" lengthAdjust="spacingAndGlyphs" fill="#000">3</text>
<text x="454.35" y="1017.00" font-family='"Liberation Sans", "DejaVu Sans", sans-serif' font-weight="bold" font-size="24.18" textLength="13.76" lengthAdjust="spacingAndGlyphs" fill="#000">1</text>
<text x="502.59" y="1017.00" font-family='"Liberation Sans", "DejaVu Sans", sans-serif' font-weight="bold" font-size="24.18" textLength="40.33" lengthAdjust="spacingAndGlyphs" fill="#000">0.3</text>
<text x="563.03" y="1017.00" font-family='"Liberation Sans", "DejaVu Sans", sans-serif' font-weight="bold" font-size="24.18" textLength="38.56" lengthAdjust="spacingAndGlyphs" fill="#000">0.1</text>
<text x="615.60" y="1017.00" font-family='"Liberation Sans", "DejaVu Sans", sans-serif' font-weight="bold" font-size="24.18" textLength="55.81" lengthAdjust="spacingAndGlyphs" fill="#000">0.03</text>
<text x="689.30" y="1017.00" font-family='"Liberation Sans", "DejaVu Sans", sans-serif' font-weight="bold" font-size="24.18" textLength="163.83" lengthAdjust="spacingAndGlyphs" fill="#000">WS(mg/ml)</text>
<text x="204.56" y="752.97" font-family='"DejaVu Sans", sans-serif' font-weight="normal" font-size="8.27" textLength="46.06" lengthAdjust="spacingAndGlyphs" fill="#000" stroke="#000" stroke-width="1.1" stroke-linejoin="round">★★★★</text>
<text x="266.02" y="892.07" font-family='"DejaVu Sans", sans-serif' font-weight="normal" font-size="8.27" textLength="48.44" lengthAdjust="spacingAndGlyphs" fill="#000" stroke="#000" stroke-width="1.1" stroke-linejoin="round">★★★★</text>
<text x="326.25" y="892.97" font-family='"DejaVu Sans", sans-serif' font-weight="normal" font-size="8.27" textLength="46.27" lengthAdjust="spacingAndGlyphs" fill="#000" stroke="#000" stroke-width="1.1" stroke-linejoin="round">★★★★</text>
<text x="386.63" y="887.27" font-family='"DejaVu Sans", sans-serif' font-weight="normal" font-size="8.27" textLength="47.40" lengthAdjust="spacingAndGlyphs" fill="#000" stroke="#000" stroke-width="1.1" stroke-linejoin="round">★★★★</text>
<text x="446.33" y="855.37" font-family='"DejaVu Sans", sans-serif' font-weight="normal" font-size="8.27" textLength="47.40" lengthAdjust="spacingAndGlyphs" fill="#000" stroke="#000" stroke-width="1.1" stroke-linejoin="round">★★★★</text>
<text x="507.03" y="802.87" font-family='"DejaVu Sans", sans-serif' font-weight="normal" font-size="8.27" textLength="47.82" lengthAdjust="spacingAndGlyphs" fill="#000" stroke="#000" stroke-width="1.1" stroke-linejoin="round">★★★★</text>
<text x="347.29" y="1084.30" font-family='"Liberation Sans", "DejaVu Sans", sans-serif' font-weight="bold" font-size="27.74" textLength="46.84" lengthAdjust="spacingAndGlyphs" fill="#000">LPS</text>
<text x="401.36" y="1084.30" font-family='"Liberation Sans", "DejaVu Sans", sans-serif' font-weight="bold" font-size="27.74" textLength="121.16" lengthAdjust="spacingAndGlyphs" fill="#000">(1μg/ml)</text>
<text x="363.21" y="643.80" font-family='"Liberation Sans", "DejaVu Sans", sans-serif' font-weight="bold" font-size="29.16" textLength="28.23" lengthAdjust="spacingAndGlyphs" fill="#000">IL</text>
<text x="390.86" y="643.80" font-family='"Liberation Sans", "DejaVu Sans", sans-serif' font-weight="bold" font-size="29.16" textLength="13.16" lengthAdjust="spacingAndGlyphs" fill="#000">-</text>
<text x="404.07" y="643.80" font-family='"Liberation Sans", "DejaVu Sans", sans-serif' font-weight="bold" font-size="29.16" textLength="19.81" lengthAdjust="spacingAndGlyphs" fill="#000">1</text>
<text x="425.06" y="643.80" font-family='"Liberation Serif", "DejaVu Serif", serif' font-weight="normal" font-size="30.71" textLength="25.55" lengthAdjust="spacingAndGlyphs" fill="#000" stroke="#000" stroke-width="0.5" stroke-linejoin="round">β</text>
<text transform="rotate(-90)" x="-977.56" y="25.50" font-family='"Liberation Sans", "DejaVu Sans", sans-serif' font-weight="bold" font-size="24.47" textLength="339.51" lengthAdjust="spacingAndGlyphs" fill="#000">Expression (% of LPS Control)</text>
<text x="1.07" y="589.00" font-family='"Liberation Sans", "DejaVu Sans", sans-serif' font-weight="bold" font-size="42.39" textLength="28.38" lengthAdjust="spacingAndGlyphs" fill="#000">C</text>
<text x="970.16" y="694.20" font-family='"Liberation Sans", "DejaVu Sans", sans-serif' font-weight="bold" font-size="23.33" textLength="43.91" lengthAdjust="spacingAndGlyphs" fill="#000">150</text>
<text x="970.16" y="790.53" font-family='"Liberation Sans", "DejaVu Sans", sans-serif' font-weight="bold" font-size="23.33" textLength="43.91" lengthAdjust="spacingAndGlyphs" fill="#000">100</text>
<text x="985.60" y="886.87" font-family='"Liberation Sans", "DejaVu Sans", sans-serif' font-weight="bold" font-size="23.33" textLength="28.44" lengthAdjust="spacingAndGlyphs" fill="#000">50</text>
<text x="999.69" y="983.20" font-family='"Liberation Sans", "DejaVu Sans", sans-serif' font-weight="bold" font-size="23.33" textLength="14.35" lengthAdjust="spacingAndGlyphs" fill="#000">0</text>
<text x="1061.52" y="1012.00" font-family='"Liberation Sans", "DejaVu Sans", sans-serif' font-weight="bold" font-size="28.88" textLength="8.27" lengthAdjust="spacingAndGlyphs" fill="#000">-</text>
<text x="1116.02" y="1012.00" font-family='"Liberation Sans", "DejaVu Sans", sans-serif' font-weight="bold" font-size="28.88" textLength="8.27" lengthAdjust="spacingAndGlyphs" fill="#000">-</text>
<text x="1142.48" y="1012.00" font-family='"Liberation Sans", "DejaVu Sans", sans-serif' font-weight="bold" font-size="28.88" textLength="61.96" lengthAdjust="spacingAndGlyphs" fill="#000">Dexa</text>
<text x="1212.47" y="1012.00" font-family='"Liberation Sans", "DejaVu Sans", sans-serif' font-weight="bold" font-size="28.88" textLength="30.86" lengthAdjust="spacingAndGlyphs" fill="#000">10</text>
<text x="1276.91" y="1012.00" font-family='"Liberation Sans", "DejaVu Sans", sans-serif' font-weight="bold" font-size="28.88" textLength="14.02" lengthAdjust="spacingAndGlyphs" fill="#000">3</text>
<text x="1332.07" y="1012.00" font-family='"Liberation Sans", "DejaVu Sans", sans-serif' font-weight="bold" font-size="28.88" textLength="11.86" lengthAdjust="spacingAndGlyphs" fill="#000">1</text>
<text x="1375.07" y="1012.00" font-family='"Liberation Sans", "DejaVu Sans", sans-serif' font-weight="bold" font-size="28.88" textLength="36.99" lengthAdjust="spacingAndGlyphs" fill="#000">0.3</text>
<text x="1429.93" y="1012.00" font-family='"Liberation Sans", "DejaVu Sans", sans-serif' font-weight="bold" font-size="28.88" textLength="34.18" lengthAdjust="spacingAndGlyphs" fill="#000">0.1</text>
<text x="1478.21" y="1012.00" font-family='"Liberation Sans", "DejaVu Sans", sans-serif' font-weight="bold" font-size="28.88" textLength="49.22" lengthAdjust="spacingAndGlyphs" fill="#000">0.03</text>
<text x="1546.10" y="1012.00" font-family='"Liberation Sans", "DejaVu Sans", sans-serif' font-weight="bold" font-size="28.88" textLength="147.32" lengthAdjust="spacingAndGlyphs" fill="#000">WS(mg/ml)</text>
<text x="1104.94" y="774.17" font-family='"DejaVu Sans", sans-serif' font-weight="normal" font-size="8.27" textLength="41.31" lengthAdjust="spacingAndGlyphs" fill="#000" stroke="#000" stroke-width="1.1" stroke-linejoin="round">★★★★</text>
<text x="1157.90" y="952.71" font-family='"DejaVu Sans", sans-serif' font-weight="normal" font-size="8.67" textLength="43.48" lengthAdjust="spacingAndGlyphs" fill="#000" stroke="#000" stroke-width="1.1" stroke-linejoin="round">★★★★</text>
<text x="1216.83" y="956.97" font-family='"DejaVu Sans", sans-serif' font-weight="normal" font-size="8.53" textLength="42.03" lengthAdjust="spacingAndGlyphs" fill="#000" stroke="#000" stroke-width="1.1" stroke-linejoin="round">★★★★</text>
<text x="1271.56" y="883.27" font-family='"DejaVu Sans", sans-serif' font-weight="normal" font-size="8.27" textLength="30.07" lengthAdjust="spacingAndGlyphs" fill="#000" stroke="#000" stroke-width="1.1" stroke-linejoin="round">★★★</text>
<text x="1257.30" y="1074.10" font-family='"Liberation Sans", "DejaVu Sans", sans-serif' font-weight="bold" font-size="27.03" textLength="46.82" lengthAdjust="spacingAndGlyphs" fill="#000">LPS</text>
<text x="1311.33" y="1074.10" font-family='"Liberation Sans", "DejaVu Sans", sans-serif' font-weight="bold" font-size="27.03" textLength="121.09" lengthAdjust="spacingAndGlyphs" fill="#000">(1μg/ml)</text>
<text x="1534.47" y="988.00" font-family='"Liberation Sans", "DejaVu Sans", sans-serif' font-weight="bold" font-size="9.00" textLength="5.64" lengthAdjust="spacingAndGlyphs" fill="#777">-</text>
<text x="1256.78" y="648.10" font-family='"Liberation Sans", "DejaVu Sans", sans-serif' font-weight="bold" font-size="27.03" textLength="57.53" lengthAdjust="spacingAndGlyphs" fill="#000">IL-8</text>
<text transform="rotate(-90)" x="-983.56" y="937.00" font-family='"Liberation Sans", "DejaVu Sans", sans-serif' font-weight="bold" font-size="25.04" textLength="338.80" lengthAdjust="spacingAndGlyphs" fill="#000">Expression (% of LPS Control)</text>
<text x="903.39" y="588.70" font-family='"Liberation Sans", "DejaVu Sans", sans-serif' font-weight="bold" font-size="42.39" textLength="29.00" lengthAdjust="spacingAndGlyphs" fill="#000">D</text></svg>
</body></html>
